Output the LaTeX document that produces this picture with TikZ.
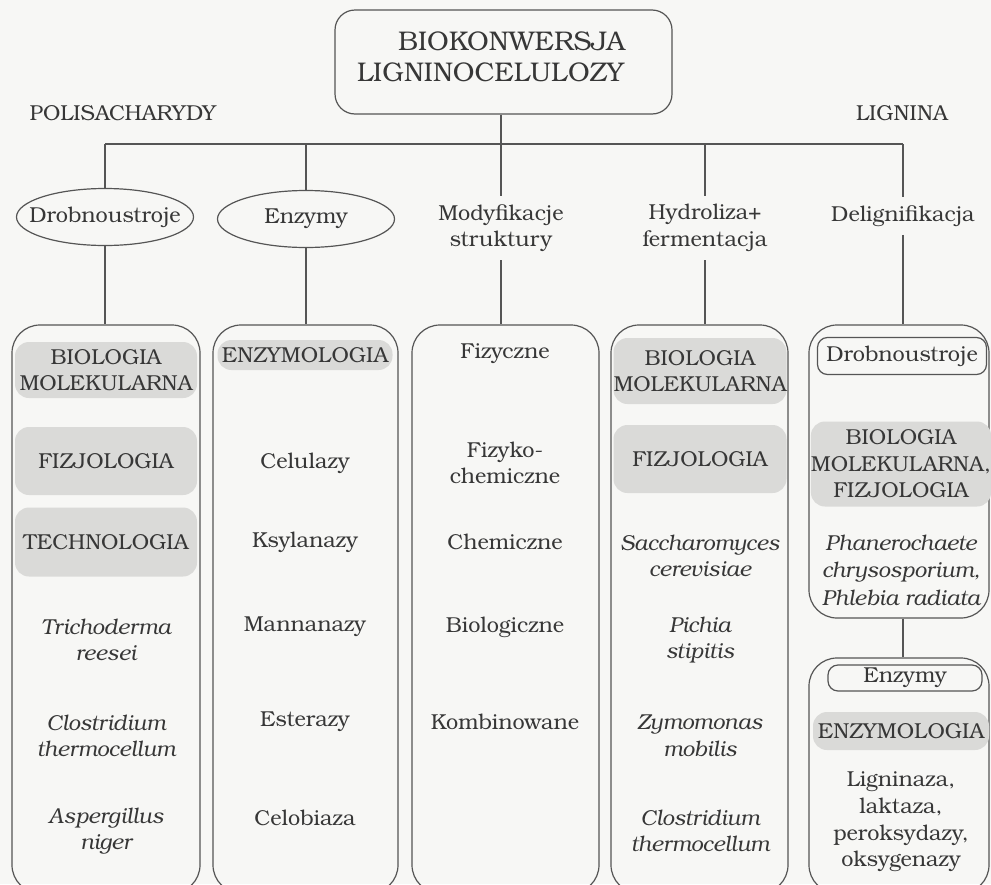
\documentclass[tikz,border=0pt]{standalone}
\usepackage{fontspec}
\setmainfont{texgyrebonum}[Extension=.otf, UprightFont=*-regular, ItalicFont=*-italic, BoldFont=*-bold, BoldItalicFont=*-bolditalic]
\usetikzlibrary{shapes.geometric,fit}
\definecolor{ink}{RGB}{55,55,55}
\definecolor{linec}{RGB}{85,85,85}
\definecolor{shade}{RGB}{218,218,216}
\definecolor{paper}{RGB}{247,247,245}
\begin{document}
\begin{tikzpicture}[x=0.5pt,y=-0.5pt,
  every node/.style={text=ink, font=\fontsize{10.8}{13.3}\selectfont, align=center},
  conn/.style={draw=linec, line width=0.6pt},
  col/.style={draw=linec, line width=0.6pt, rounded corners=14pt, inner sep=0pt},
  oval/.style={draw=linec, line width=0.6pt, ellipse, minimum width=88.5pt, minimum height=28.5pt, inner sep=0pt},
  plain/.style={inner sep=4pt},
  gb/.style={fill=shade, rounded corners=7pt, inner sep=0pt},
  tag/.style={draw=linec, line width=0.6pt, rounded corners=5pt, inner sep=0pt},
  sp/.style={font=\fontsize{10.8}{13.3}\selectfont\itshape}
]
\fill[paper] (0,0) rectangle (991,884);
\useasboundingbox (0,0) rectangle (991,884);

% title and top labels
\node[draw=linec, line width=0.6pt, rounded corners=10pt, inner sep=0pt, fit={(335,10) (672,114)}] (t) {};
\node[align=left, inner sep=0pt, font=\fontsize{13.5}{15.5}\selectfont] (tt) at (491,57) {\hspace*{20.5pt}BIOKONWERSJA\\LIGNINOCELULOZY};
\node (pol) at (123,113) {POLISACHARYDY};
\node (lig) at (902,113) {LIGNINA};

\coordinate (j1) at (105,144);
\coordinate (j2) at (306,144);
\coordinate (j3) at (501,144);
\coordinate (j4) at (705,144);
\coordinate (j5) at (903,144);

% second level
\node[oval] (e1) at (105,217) {\makebox[0pt]{Drobnoustroje}};
\node[oval] (e2) at (306,219) {\makebox[0pt]{Enzymy}};
\node[plain] (m3) at (501,228) {Modyfikacje\\struktury};
\node[plain] (h4) at (705,228) {Hydroliza+\\fermentacja};
\node[plain] (d5) at (903,216) {Delignifikacja};

% column boxes
\node[col, fit={(12,325) (200,893)}] (b1) {};
\node[col, fit={(213,325) (398,893)}] (b2) {};
\node[col, fit={(412,325) (599,893)}] (b3) {};
\node[col, fit={(611,325) (788,893)}] (b4) {};
\node[col, fit={(809,325) (989,618)}] (b5) {};
\node[col, fit={(809,658) (989,893)}] (b6) {};

% connectors
\draw[conn] (t.south -| j3) -- (j3);
\draw[conn] (j1) -- (j5);
\draw[conn] (j1) -- (e1.north);
\draw[conn] (e1.south) -- (e1.south |- b1.north);
\draw[conn] (j2) -- (e2.north);
\draw[conn] (e2.south) -- (e2.south |- b2.north);
\draw[conn] (j3) -- (m3.north);
\draw[conn] (m3.south) -- (m3.south |- b3.north);
\draw[conn] (j4) -- (h4.north);
\draw[conn] (h4.south) -- (h4.south |- b4.north);
\draw[conn] (j5) -- (d5.north);
\draw[conn] (d5.south) -- (d5.south |- b5.north);
\draw[conn] (d5.south |- b5.south) -- (d5.south |- b6.north);

% column 1
\node[gb, minimum width=91pt, minimum height=28pt] (g11) at (106,370) {BIOLOGIA\\MOLEKULARNA};
\node[gb, minimum width=91pt, minimum height=34pt] (g12) at (106,461) {FIZJOLOGIA};
\node[gb, minimum width=91pt, minimum height=34.5pt] (g13) at (106,542) {TECHNOLOGIA};
\node[sp] (s11) at (106,640) {Trichoderma\\reesei};
\node[sp] (s12) at (106,736) {Clostridium\\thermocellum};
\node[sp] (s13) at (106,831) {Aspergillus\\niger};

% column 2
\node[gb, minimum width=87.5pt, minimum height=15pt] (g21) at (305,355) {ENZYMOLOGIA};
\node (n21) at (305,463) {Celulazy};
\node (n22) at (305,542) {Ksylanazy};
\node (n23) at (305,627) {Mannanazy};
\node (n24) at (305,722) {Esterazy};
\node (n25) at (305,818) {Celobiaza};

% column 3
\node (n31) at (505,354) {Fizyczne};
\node (n32) at (505,463) {Fizyko-\\chemiczne};
\node (n33) at (505,542) {Chemiczne};
\node (n34) at (505,627) {Biologiczne};
\node (n35) at (505,722) {Kombinowane};

% column 4
\node[gb, minimum width=86.5pt, minimum height=33pt] (g41) at (700,371) {BIOLOGIA\\MOLEKULARNA};
\node[gb, minimum width=86.5pt, minimum height=34pt] (g42) at (700,459) {FIZJOLOGIA};
\node[sp] (s41) at (700,556) {Saccharomyces\\cerevisiae};
\node[sp] (s42) at (700,640) {Pichia\\stipitis};
\node[sp] (s43) at (700,736) {Zymomonas\\mobilis};
\node[sp] (s44) at (700,831) {Clostridium\\thermocellum};

% column 5 upper
\node[tag, minimum width=84.5pt, minimum height=18.5pt] (tg5) at (902,356) {Drobnoustroje};
\node[gb, minimum width=88pt, minimum height=42.5pt] (g51) at (901,464) {BIOLOGIA\\MOLEKULARNA,\\FIZJOLOGIA};
\node[sp, font=\fontsize{10.8}{13.8}\selectfont\itshape] (s51) at (901,570) {Phanerochaete\\chrysosporium,\\Phlebia radiata};

% column 5 lower
\node[tag, minimum width=77pt, minimum height=13pt] (tg6) at (905,678) {Enzymy};
\node[gb, minimum width=88pt, minimum height=19pt] (g61) at (901,731) {ENZYMOLOGIA};
\node (n61) at (901,822) {Ligninaza,\\laktaza,\\peroksydazy,\\oksygenazy};
\end{tikzpicture}
\end{document}
